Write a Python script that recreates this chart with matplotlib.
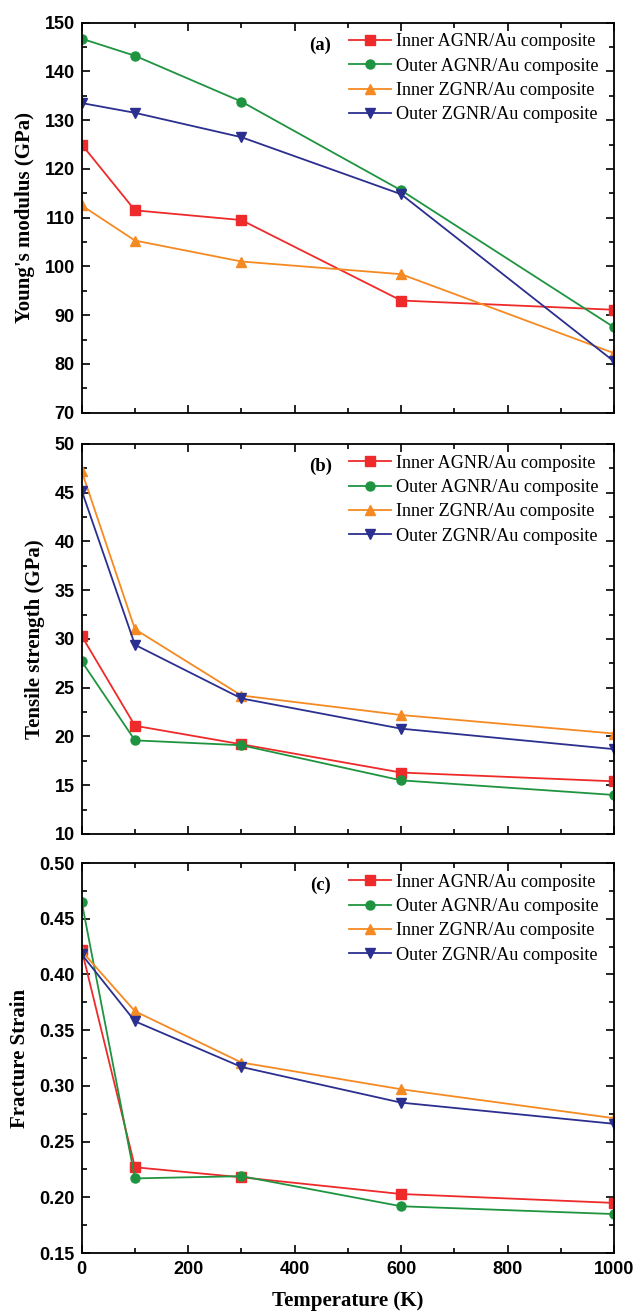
import numpy as np
import matplotlib.pyplot as plt
from matplotlib.ticker import MultipleLocator, FormatStrFormatter

# ---- Data ---- #
temperature = [0, 100, 300, 600, 1000]

labels = [
    "Inner AGNR/Au composite",
    "Outer AGNR/Au composite",
    "Inner ZGNR/Au composite",
    "Outer ZGNR/Au composite",
]

youngs_inner_agnr = [125.0, 111.5, 109.5, 93.0, 91.1]
youngs_outer_agnr = [146.7, 143.2, 133.8, 115.6, 87.5]
youngs_inner_zgnr = [112.5, 105.3, 101.0, 98.4, 82.2]
youngs_outer_zgnr = [133.5, 131.5, 126.5, 114.8, 80.5]

tensile_inner_agnr = [30.3, 21.1, 19.2, 16.3, 15.4]
tensile_outer_agnr = [27.7, 19.6, 19.1, 15.5, 14.0]
tensile_inner_zgnr = [47.2, 31.0, 24.2, 22.2, 20.3]
tensile_outer_zgnr = [45.2, 29.4, 23.9, 20.8, 18.7]

strain_inner_agnr = [0.422, 0.227, 0.218, 0.203, 0.195]
strain_outer_agnr = [0.465, 0.217, 0.219, 0.192, 0.185]
strain_inner_zgnr = [0.421, 0.367, 0.321, 0.297, 0.271]
strain_outer_zgnr = [0.418, 0.358, 0.317, 0.285, 0.266]

colors = ["#ee2a2a", "#1f9440", "#f58a23", "#2b2f8f"]
markers = ["s", "o", "^", "v"]

panels = [
    dict(series=[youngs_inner_agnr, youngs_outer_agnr, youngs_inner_zgnr, youngs_outer_zgnr],
         ylabel="Young's modulus (GPa)", ylim=(70, 150), major=10, minor=5, fmt="%d", tag="(a)"),
    dict(series=[tensile_inner_agnr, tensile_outer_agnr, tensile_inner_zgnr, tensile_outer_zgnr],
         ylabel="Tensile strength (GPa)", ylim=(10, 50), major=5, minor=2.5, fmt="%d", tag="(b)"),
    dict(series=[strain_inner_agnr, strain_outer_agnr, strain_inner_zgnr, strain_outer_zgnr],
         ylabel="Fracture Strain", ylim=(0.15, 0.50), major=0.05, minor=0.025, fmt="%.2f", tag="(c)"),
]

# ---- Figure ---- #
fig = plt.figure(figsize=(6.36, 13.15), dpi=100)

left, width, height = 0.1285, 0.837, 0.2966
bottoms = [0.6862, 0.3658, 0.0471]

serif = "Liberation Serif"
sans = "Liberation Sans"
tick_font = dict(family=sans, weight="bold", size=13)

for i, p in enumerate(panels):
    ax = fig.add_axes([left, bottoms[i], width, height])
    for vals, c, m, lab in zip(p["series"], colors, markers, labels):
        ax.plot(temperature, vals, color=c, marker=m, markersize=6.5, lw=1.3, label=lab)

    ax.set_xlim(0, 1000)
    ax.set_ylim(*p["ylim"])
    ax.xaxis.set_major_locator(MultipleLocator(200))
    ax.xaxis.set_minor_locator(MultipleLocator(100))
    ax.yaxis.set_major_locator(MultipleLocator(p["major"]))
    ax.yaxis.set_minor_locator(MultipleLocator(p["minor"]))
    ax.yaxis.set_major_formatter(FormatStrFormatter(p["fmt"]))
    ax.tick_params(which="both", direction="in", top=True, right=True, width=1.2)
    ax.tick_params(which="major", length=6)
    ax.tick_params(which="minor", length=3.5)
    ax.tick_params(axis="y", pad=5)
    ax.tick_params(axis="x", pad=6)
    for s in ax.spines.values():
        s.set_linewidth(1.3)

    for t in ax.get_yticklabels():
        t.set_fontproperties(tick_font)

    if i < 2:
        ax.set_xticklabels([])
    else:
        for t in ax.get_xticklabels():
            t.set_fontproperties(tick_font)
        ax.set_xlabel("Temperature (K)", fontfamily=serif, fontweight="bold", fontsize=15, labelpad=9)

    ax.set_ylabel(p["ylabel"], fontfamily=serif, fontweight="bold", fontsize=15, labelpad=7)

    ax.text(0.448, 0.943, p["tag"], transform=ax.transAxes, fontfamily=serif,
            fontweight="bold", fontsize=13.5, ha="center", va="center")

    ax.legend(loc="upper right", frameon=False, prop=dict(family=serif, size=13.1),
              handlelength=2.3, handletextpad=0.3, labelspacing=0.4,
              borderaxespad=0.3, bbox_to_anchor=(0.995, 1.005))

fig.savefig("out.png", dpi=100)
